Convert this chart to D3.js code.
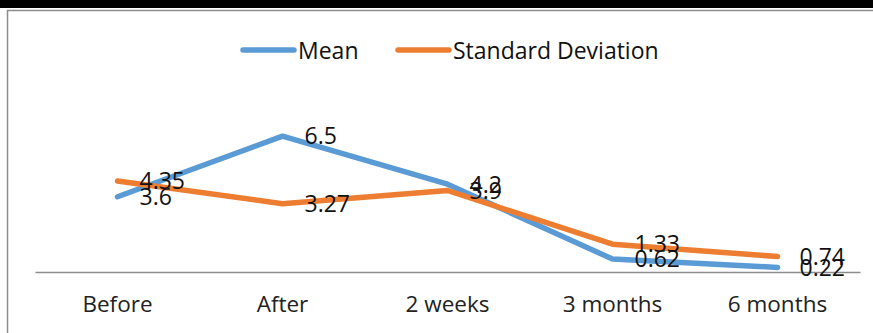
<!DOCTYPE html>
<html><head><meta charset="utf-8">
<script src="https://cdn.jsdelivr.net/npm/d3@7"></script>
<style>body{margin:0;background:#fff;}svg{display:block;}</style>
</head><body>
<svg id="c" width="873" height="333"></svg>
<script>
const categories = ["Before", "After", "2 weeks", "3 months", "6 months"];
const meanValues = [3.6, 6.5, 4.2, 0.62, 0.22];
const sdValues = [4.35, 3.27, 3.9, 1.33, 0.74];
const seriesNames = ["Mean", "Standard Deviation"];
const colors = ["#5B9BD5", "#ED7D31"];

const svg = d3.select("#c");
const W = 873, H = 333;
const font = "'Open Sans', sans-serif";

// top black band and frame
svg.append("rect").attr("x",0).attr("y",0).attr("width",W).attr("height",8).attr("fill","#000");
svg.append("path").attr("d",`M7.5,${H} V10.5 H${W}`).attr("fill","none").attr("stroke","#8c8c8c").attr("stroke-width",1.5);

const x = d3.scaleBand().domain(categories).range([35, 860]);
const y = d3.scaleLinear().domain([0, 7]).range([272, 272 - 7*20.9]);

// category axis
const ax = svg.append("g").attr("transform","translate(0,272)")
  .call(d3.axisBottom(x).tickSize(0).tickPadding(18));
ax.select(".domain").attr("stroke","#8c8c8c").attr("stroke-width",1.3);
ax.selectAll("text").attr("font-family",font).attr("font-size",22.5).attr("fill","#222")
  .attr("dy","0.71em").attr("y",24);

const series = [meanValues, sdValues];
const line = d3.line().x((d,i)=>x(categories[i])+x.bandwidth()/2).y(d=>y(d));

series.forEach((vals, s) => {
  svg.append("path").datum(vals).attr("d", line).attr("fill","none")
    .attr("stroke", colors[s]).attr("stroke-width",5.5).attr("stroke-linejoin","round").attr("stroke-linecap","round");
});
series.forEach((vals, s) => {
  svg.append("g").selectAll("text").data(vals).join("text")
    .attr("x",(d,i)=>x(categories[i])+x.bandwidth()/2+22)
    .attr("y",d=>y(d)).attr("dy","0.36em")
    .attr("font-family",font).attr("font-size",23).attr("fill","#111")
    .text(d=>d);
});

// legend
const leg = [{x:240, tx:298}, {x:395, tx:453}];
seriesNames.forEach((n, s) => {
  svg.append("line").attr("x1",leg[s].x+3).attr("x2",leg[s].x+54).attr("y1",50).attr("y2",50)
    .attr("stroke",colors[s]).attr("stroke-width",5.5).attr("stroke-linecap","round");
  svg.append("text").attr("x",leg[s].tx).attr("y",59).attr("font-family",font).attr("font-size",23)
    .attr("fill","#111").text(n);
});
</script>
</body></html>
